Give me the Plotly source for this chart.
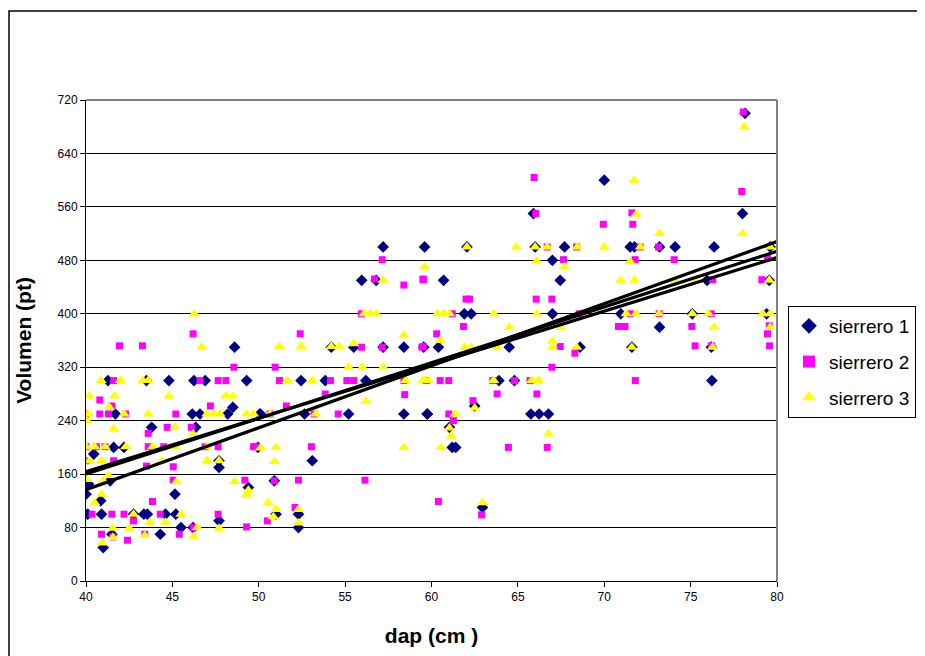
import numpy as np
import plotly.graph_objects as go

# sierrero 1 (diamonds)
s1_x = [48.6, 41.27, 43.5, 44.8, 46.25, 46.9, 49.3, 48.5, 41.7, 46.15, 46.6, 48.2, 50.05, 43.8, 46.35,
        41.6, 42.2, 49.95, 40.45, 47.7, 47.7, 40.15, 41.4, 49.4, 40.0, 40.85, 45.15, 40.1, 40.9, 42.75,
        43.35, 43.55, 44.6, 45.2, 47.7, 45.5, 46.2, 44.3, 41.5, 41.0,
        54.2, 55.5, 57.2, 58.4, 52.45, 53.85, 56.2, 50.1, 52.65, 55.2, 58.4, 59.75, 53.1, 50.9, 51.0,
        52.3, 52.3,
        57.2, 59.6, 55.96, 56.8, 62.05, 66.0, 67.7, 67.0, 60.7, 67.45, 61.9, 62.3, 67.0, 60.4, 59.55,
        64.5, 68.6, 63.9, 64.8, 59.76, 65.75, 66.23, 66.77, 61.2, 61.4, 62.5, 61.04, 62.95, 65.9,
        70.0, 78.0, 71.5, 71.75, 73.2, 74.1, 76.36, 79.6, 75.95, 79.55, 70.96, 75.1, 79.4, 73.2,
        71.6, 76.2, 76.23, 78.15]
s1_y = [350, 300, 300, 300, 300, 300, 300, 260, 250, 250, 250, 250, 250, 230, 230,
        200, 200, 200, 190, 180, 170, 145, 150, 140, 130, 120, 130, 100, 100, 100,
        100, 100, 100, 100, 90, 80, 80, 70, 70, 50,
        350, 350, 350, 350, 300, 300, 300, 250, 250, 250, 250, 250, 180, 150, 100,
        100, 80,
        500, 500, 450, 450, 500, 500, 500, 480, 450, 450, 400, 400, 400, 350, 350,
        350, 350, 300, 300, 250, 250, 250, 250, 200, 200, 262, 230, 110, 550,
        600, 550, 500, 500, 500, 500, 500, 500, 450, 450, 400, 400, 400, 380,
        350, 350, 300, 700]

# sierrero 2 (squares)
s2_x = [46.2, 41.94, 43.27, 48.56, 41.6, 46.6, 47.65, 48.1, 40.8, 41.5, 47.2, 40.0, 40.8, 41.3, 42.3,
        45.2, 44.7, 46.1, 43.6, 40.0, 40.6, 41.1, 43.6, 44.5, 46.9, 47.65, 49.7, 40.0, 41.6, 43.5,
        45.05, 45.05, 49.2, 43.85, 40.35, 41.5, 42.2, 44.3, 47.65, 42.75, 46.2, 49.3, 40.9, 41.55,
        42.4, 43.4, 45.4,
        55.95, 52.4, 55.95, 57.15, 59.45, 50.95, 51.2, 54.15, 55.1, 55.5, 58.4, 59.7, 58.45, 53.85,
        51.6, 50.65, 53.2, 54.6, 49.8, 53.05, 50.9, 52.3, 56.15, 52.1, 50.5,
        57.15, 56.7, 58.4, 59.5, 67.64, 66.7, 68.4, 59.53, 62.0, 62.2, 66.06, 66.97, 61.2, 68.55,
        61.85, 60.3, 59.53, 67.45, 68.3, 66.97, 60.5, 61.0, 63.55, 64.8, 65.7, 63.8, 66.1, 62.4,
        61.0, 61.27, 64.45, 66.7, 60.4, 62.9, 65.94, 66.04,
        77.96, 71.6, 69.95, 71.65, 72.08, 73.14, 71.79, 74.05, 79.45, 76.28, 79.12, 71.5, 73.18,
        76.19, 70.82, 71.2, 75.07, 79.55, 79.45, 75.26, 76.2, 79.57, 71.8, 78.05]
s2_y = [370, 352, 352, 320, 300, 300, 300, 300, 271, 262, 262, 250, 250, 250, 250,
        250, 230, 230, 221, 201, 201, 201, 201, 201, 201, 201, 201, 180, 180, 172,
        171, 151, 151, 119, 100, 100, 100, 100, 100, 90, 80, 81, 70, 66,
        61, 70, 70,
        400, 370, 350, 350, 350, 320, 300, 300, 300, 300, 300, 300, 279, 280,
        262, 250, 250, 250, 201, 201, 150, 151, 151, 110, 90,
        481, 452, 443, 452, 481, 500, 500, 451, 422, 422, 422, 422, 400, 400,
        381, 370, 351, 351, 341, 320, 300, 300, 300, 300, 300, 280, 280, 270,
        250, 240, 200, 200, 119, 99, 604, 550,
        583, 551, 534, 534, 500, 500, 481, 481, 484, 451, 451, 400, 400,
        400, 381, 381, 381, 382, 370, 352, 352, 352, 300, 702]

# sierrero 3 (triangles)
s3_x = [46.27, 46.7, 40.87, 42.0, 43.3, 43.6, 40.2, 41.65, 44.8, 48.1, 48.5, 41.35, 40.15, 42.2, 43.6,
        47.0, 47.4, 47.75, 49.3, 49.7, 40.05, 41.6, 45.15, 46.2, 40.0, 40.5, 41.1, 42.3, 43.85,
        45.15, 47.0, 40.2, 40.9, 44.4, 47.0, 47.7, 41.3, 40.05, 41.0, 45.25, 48.6, 49.4, 49.3, 40.9,
        40.5, 42.75, 45.5, 43.7, 44.6, 47.7, 46.45, 42.5, 41.55, 43.4, 46.25, 40.95, 41.55,
        56.1, 56.45, 56.8, 58.4, 51.2, 52.45, 54.2, 54.65, 55.5, 55.2, 56.0, 57.2, 51.65, 53.1,
        58.5, 59.5, 56.2, 50.65, 53.3, 50.1, 51.0, 58.4, 50.9, 50.55, 51.0, 50.85, 52.3, 52.3,
        57.2, 59.6, 62.05, 64.9, 66.0, 66.7, 68.45, 66.1, 67.7, 60.34, 60.7, 61.04, 63.6, 66.1,
        64.5, 67.5, 60.5, 61.9, 62.3, 63.8, 67.0, 68.4, 67.0, 59.6, 59.8, 63.6, 65.8, 66.2,
        62.5, 61.37, 61.04, 61.14, 66.77, 60.56, 62.95,
        71.73, 71.85, 78.02, 73.2, 70.0, 72.1, 79.6, 71.5, 70.96, 71.75, 74.1, 75.3, 79.55,
        71.27, 71.84, 73.18, 75.1, 76.03, 79.18, 79.6, 76.36, 79.6, 71.6, 76.27, 78.1]
s3_y = [400, 350, 300, 300, 300, 300, 277, 277, 277, 277, 277, 260, 250, 250, 250,
        250, 250, 250, 250, 250, 240, 228, 230, 220, 201, 201, 201, 201, 201,
        201, 201, 180, 180, 180, 180, 180, 158, 152, 150, 149, 149, 136, 129, 130,
        117, 100, 100, 88, 88, 79, 80, 79, 79, 68, 67, 57, 65,
        400, 400, 400, 368, 351, 351, 351, 351, 355, 320, 320, 320, 300, 300,
        300, 300, 269, 250, 250, 199, 200, 200, 179, 117, 107, 96, 107, 87,
        450, 470, 500, 500, 500, 500, 500, 479, 470, 400, 400, 400, 400, 400,
        380, 380, 360, 350, 350, 350, 350, 350, 359, 300, 300, 300, 300, 300,
        259, 250, 229, 217, 220, 200, 117,
        600, 549, 520, 520, 500, 500, 500, 478, 450, 450, 450, 450, 450,
        400, 400, 400, 400, 400, 400, 400, 380, 380, 350, 350, 680]

series_names = ["sierrero 1", "sierrero 2", "sierrero 3"]
x_ticks = [40, 45, 50, 55, 60, 65, 70, 75, 80]
y_ticks = [0, 80, 160, 240, 320, 400, 480, 560, 640, 720]

FONT = "Liberation Sans, Arial, sans-serif"
TICKFONT = "Liberation Sans Narrow, Arial Narrow, Liberation Sans, sans-serif"
fig = go.Figure()

styles = [
    dict(symbol="diamond", color="#000080", size=9),
    dict(symbol="square", color="#FF00FF", size=7),
    dict(symbol="triangle-up", color="#FFFF00", size=10),
]
data = [(s1_x, s1_y), (s2_x, s2_y), (s3_x, s3_y)]
for (xs, ys), name, st in zip(data, series_names, styles):
    fig.add_trace(go.Scatter(x=xs, y=ys, mode="markers", name=name, legendgroup=name,
                             marker=dict(symbol=st["symbol"], color=st["color"], size=st["size"],
                                         line=dict(width=0))))

for xs, ys in data:
    m, b = np.polyfit(np.array(xs), np.array(ys), 1)
    lx = np.array([40.0, 80.0])
    fig.add_trace(go.Scatter(x=lx, y=m * lx + b, mode="lines", showlegend=False,
                             line=dict(color="black", width=3.2), hoverinfo="skip"))

# page is drawn with an 8px offset inside the browser window
OFF = 8
L, R, T, B = 86 - OFF, 777 - OFF, 100 - OFF, 581 - OFF
W, H = 925 - OFF, 656 - OFF
pw, ph = R - L, B - T

fig.update_layout(
    width=W, height=H,
    margin=dict(l=L, r=W - R, t=T, b=H - B, autoexpand=False),
    paper_bgcolor="white", plot_bgcolor="white",
    font=dict(family=FONT, color="black"),
    legend=dict(x=(788 - OFF - L) / pw, y=1 - (306 - OFF - T) / ph, xanchor="left", yanchor="top",
                bordercolor="black", borderwidth=1, font=dict(size=19, family=FONT),
                itemsizing="constant", tracegroupgap=8, itemwidth=30),
    showlegend=True,
    shapes=[
        dict(type="rect", xref="paper", yref="paper",
             x0=(1 - L) / pw, x1=(940 - L) / pw, y0=-(670 - B) / ph, y1=1 + (T - (11 - OFF)) / ph,
             line=dict(color="black", width=1.5), fillcolor="rgba(0,0,0,0)", layer="below"),
        dict(type="line", xref="paper", yref="paper", x0=0, x1=1, y0=1, y1=1,
             line=dict(color="#808080", width=2)),
        dict(type="line", xref="paper", yref="paper", x0=1, x1=1, y0=0, y1=1,
             line=dict(color="#808080", width=2)),
    ],
)
fig.update_xaxes(range=[40, 80], tickvals=x_ticks, ticks="outside", ticklen=5, tickcolor="black",
                 showline=True, linecolor="black", linewidth=1, showgrid=False, zeroline=False,
                 tickfont=dict(size=12, family=TICKFONT),
                 title=dict(text="<b>dap (cm )</b>", font=dict(size=21, family=FONT), standoff=24))
fig.update_yaxes(range=[0, 720], tickvals=y_ticks, ticks="outside", ticklen=5, tickcolor="black",
                 showline=True, linecolor="black", linewidth=1, showgrid=True, gridcolor="black",
                 gridwidth=1, zeroline=False, tickfont=dict(size=12, family=TICKFONT),
                 title=dict(text="<b>Volumen (pt)</b>", font=dict(size=21, family=FONT), standoff=20))

fig.write_html("out.html")
